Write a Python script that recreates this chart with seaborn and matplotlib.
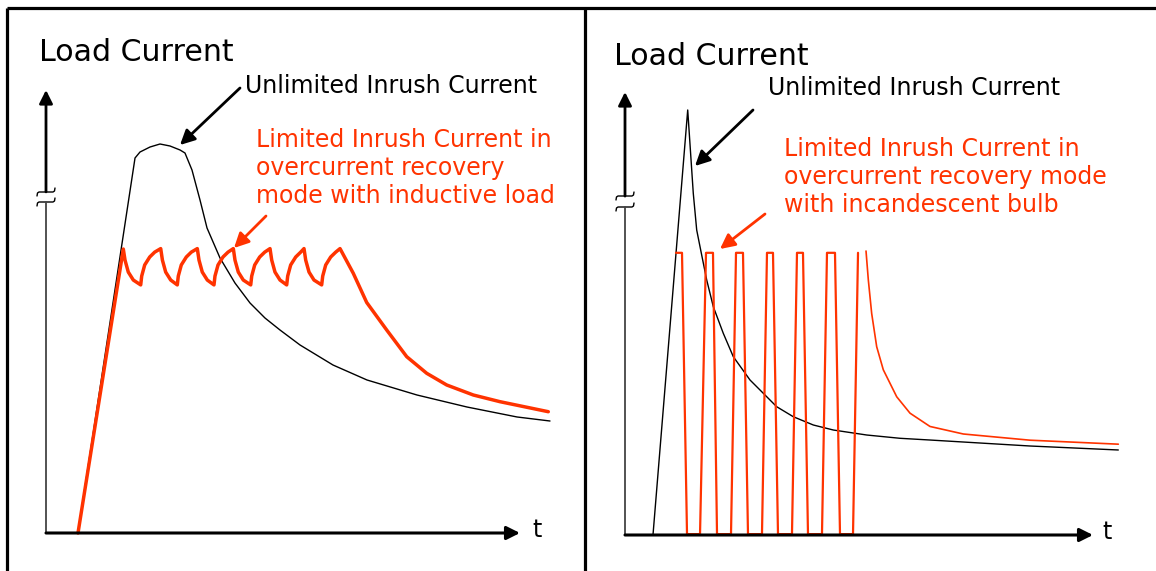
import matplotlib
matplotlib.use('Agg')
import matplotlib.pyplot as plt
import seaborn as sns

sns.set_style('white')
plt.rcParams['font.family'] = ['DejaVu Sans']

RED = '#ff3300'

# ---------------- data (arbitrary units: t = time, i = current) ----------------
# Left panel: inductive load
left_unlimited_t = [6.75, 18.78, 19.83, 21.94, 24.05, 26.16, 28.27, 29.32, 30.80, 32.49,
                    33.97, 36.71, 39.87, 43.04, 46.20, 49.37, 53.59, 60.55, 67.72, 78.27,
                    88.82, 99.37, 106.33]
left_unlimited_i = [0.0, 84.65, 86.00, 87.13, 87.81, 87.36, 86.46, 85.78, 81.94, 75.17,
                    68.85, 62.08, 56.43, 51.92, 48.53, 45.82, 42.44, 37.92, 34.54, 31.15,
                    28.44, 26.19, 25.28]

left_limited_t = [6.75, 16.31,
                  16.67, 17.36, 18.42, 19.98, 20.19, 20.82, 21.88, 22.93, 24.20,
                  24.56, 25.25, 26.31, 27.70, 27.91, 28.54, 29.60, 30.65, 31.92,
                  32.28, 32.97, 34.03, 35.44, 35.65, 36.29, 37.34, 38.40, 39.52,
                  39.87, 40.57, 41.62, 43.19, 43.40, 44.03, 45.08, 46.14, 47.26,
                  47.62, 48.31, 49.37, 50.78, 50.99, 51.62, 52.68, 53.73, 54.43,
                  54.79, 55.49, 56.54, 58.16, 58.38, 59.01, 60.06, 61.12, 62.03,
                  64.83, 67.66, 71.88, 76.10, 80.32, 84.54, 90.15, 95.78, 105.97]
left_limited_i = [0.0, 64.1,
                  61.6, 58.9, 57.1, 56.0, 58.0, 60.5, 62.3, 63.4, 64.2,
                  61.6, 58.9, 57.1, 56.0, 58.0, 60.5, 62.3, 63.4, 64.2,
                  61.6, 58.9, 57.1, 56.0, 58.0, 60.5, 62.3, 63.4, 64.2,
                  61.6, 58.9, 57.1, 56.0, 58.0, 60.5, 62.3, 63.4, 64.2,
                  61.6, 58.9, 57.1, 56.0, 58.0, 60.5, 62.3, 63.4, 64.2,
                  61.6, 58.9, 57.1, 56.0, 58.0, 60.5, 62.3, 63.4, 64.2,
                  58.62, 52.03, 45.82, 39.80, 36.05, 33.41, 31.15, 29.64, 27.38]

# Right panel: incandescent bulb
right_unlimited_t = [5.98, 13.40, 14.59, 15.32, 16.03, 17.46, 18.87, 21.00, 23.14, 26.71,
                     29.55, 32.41, 35.96, 40.24, 44.51, 51.65, 58.76, 65.17, 86.54, 105.41]
right_unlimited_i = [0.0, 95.94, 77.13, 68.85, 65.08, 57.56, 51.53, 45.53, 40.25, 34.99,
                     31.99, 28.96, 26.70, 24.83, 23.70, 22.57, 21.83, 21.44, 20.09, 19.19]

right_pulse_t = [10.90, 12.18, 13.25, 16.03, 17.31, 18.80, 19.66, 22.65, 23.72, 25.21,
                 26.28, 29.27, 30.34, 31.62, 32.69, 35.68, 36.75, 38.03, 39.10, 42.09,
                 43.16, 44.87, 45.94, 48.72, 49.79]
right_pulse_i = [63.7, 63.7, 0.2, 0.2, 63.7, 63.7, 0.2, 0.2, 63.7, 63.7,
                 0.2, 0.2, 63.7, 63.7, 0.2, 0.2, 63.7, 63.7, 0.2, 0.2,
                 63.7, 63.7, 0.2, 0.2, 63.7]

right_decay_t = [51.50, 51.99, 52.71, 53.78, 55.19, 58.06, 60.90, 65.17, 72.29, 86.54, 105.41]
right_decay_i = [64.1, 57.6, 50.0, 42.5, 37.3, 31.2, 27.5, 24.5, 22.8, 21.4, 20.5]

# texts
title_text = 'Load Current'
unlimited_label = 'Unlimited Inrush Current'
left_limited_lines = ['Limited Inrush Current in', 'overcurrent recovery', 'mode with inductive load']
right_limited_lines = ['Limited Inrush Current in', 'overcurrent recovery mode', 'with incandescent bulb']
time_label = 't'

# ---------------- figure ----------------
W, H = 1156, 571
fig = plt.figure(figsize=(W / 100, H / 100), dpi=100)
fig.patch.set_facecolor('white')

# overlay in pixel coordinates for frame, texts, pointer arrows
ax0 = fig.add_axes([0, 0, 1, 1])
ax0.set_xlim(0, W)
ax0.set_ylim(H, 0)
ax0.axis('off')


def panel_axes(x0_px, y0_px, sx, sy):
    xmax, ymax = 110, 100
    w = xmax * sx
    h = ymax * sy
    ax = fig.add_axes([x0_px / W, 1 - y0_px / H, w / W, h / H])
    ax.set_xlim(0, xmax)
    ax.set_ylim(0, ymax)
    ax.axis('off')
    ax.patch.set_alpha(0)
    return ax


axL = panel_axes(46, 533, 4.74, 4.43)
axR = panel_axes(625, 535, 4.68, 4.43)

# frame lines
ax0.plot([7, W], [8, 8], color='black', lw=2.3, solid_capstyle='butt')
ax0.plot([7, 7], [8, H], color='black', lw=2.3, solid_capstyle='butt')
ax0.plot([585, 585], [8, H], color='black', lw=2.3, solid_capstyle='butt')


def draw_axes(ax, brk_top, brk_bot):
    ax.annotate('', xy=(100, 0), xytext=(0, 0),
                arrowprops=dict(arrowstyle='-|>', color='black', lw=2.2,
                                mutation_scale=20, shrinkA=0, shrinkB=0),
                annotation_clip=False)
    ax.annotate('', xy=(0, 100), xytext=(0, brk_top),
                arrowprops=dict(arrowstyle='-|>', color='black', lw=2.0,
                                mutation_scale=20, shrinkA=0, shrinkB=0),
                annotation_clip=False)
    ax.plot([0, 0], [0, brk_bot], color='#444444', lw=1.3, clip_on=False)


draw_axes(axL, 77.0, 74.7)
draw_axes(axR, 76.5, 74.0)


def squiggle(cx, cy):
    xs = [cx - 9, cx - 8.5, cx - 7, cx + 7, cx + 8.5, cx + 9]
    ys = [cy + 4, cy + 1, cy, cy, cy - 1, cy - 4]
    ax0.plot(xs, ys, color='black', lw=1.0)


for cx, cys in [(46, (192, 202)), (625, (196, 207))]:
    for cy in cys:
        squiggle(cx, cy)

# curves
sns.lineplot(x=left_unlimited_t, y=left_unlimited_i, ax=axL, sort=False, estimator=None,
             color='black', lw=1.0, clip_on=False)
sns.lineplot(x=left_limited_t, y=left_limited_i, ax=axL, sort=False, estimator=None,
             color=RED, lw=2.5, clip_on=False)
sns.lineplot(x=right_unlimited_t, y=right_unlimited_i, ax=axR, sort=False, estimator=None,
             color='black', lw=1.0, clip_on=False)
sns.lineplot(x=right_pulse_t, y=right_pulse_i, ax=axR, sort=False, estimator=None,
             color=RED, lw=1.6, clip_on=False)
sns.lineplot(x=right_decay_t, y=right_decay_i, ax=axR, sort=False, estimator=None,
             color=RED, lw=1.2, clip_on=False)

# texts
ax0.text(39, 61, title_text, fontsize=21.6, va='baseline', ha='left', color='black')
ax0.text(614, 65, title_text, fontsize=21.6, va='baseline', ha='left', color='black')
ax0.text(245, 93, unlimited_label, fontsize=17, va='baseline', ha='left', color='black')
ax0.text(768, 95, unlimited_label, fontsize=17, va='baseline', ha='left', color='black')
for k, line in enumerate(left_limited_lines):
    ax0.text(256, 147 + 28 * k, line, fontsize=17, va='baseline', ha='left', color=RED)
for k, line in enumerate(right_limited_lines):
    ax0.text(784, 156 + 28 * k, line, fontsize=17, va='baseline', ha='left', color=RED)
ax0.text(532, 537, time_label, fontsize=17, va='baseline', ha='left', color='black')
ax0.text(1102, 539, time_label, fontsize=17, va='baseline', ha='left', color='black')

# pointer arrows
def pointer(x1, y1, x2, y2, color):
    ax0.annotate('', xy=(x2, y2), xytext=(x1, y1),
                 arrowprops=dict(arrowstyle='-|>', color=color, lw=2.0,
                                 mutation_scale=22, shrinkA=0, shrinkB=0))


pointer(240, 88, 180, 145, 'black')
pointer(266, 216, 234, 248, RED)
pointer(753, 110, 695, 166, 'black')
pointer(765, 214, 720, 249, RED)

fig.savefig('out.png', dpi=100, facecolor='white')
